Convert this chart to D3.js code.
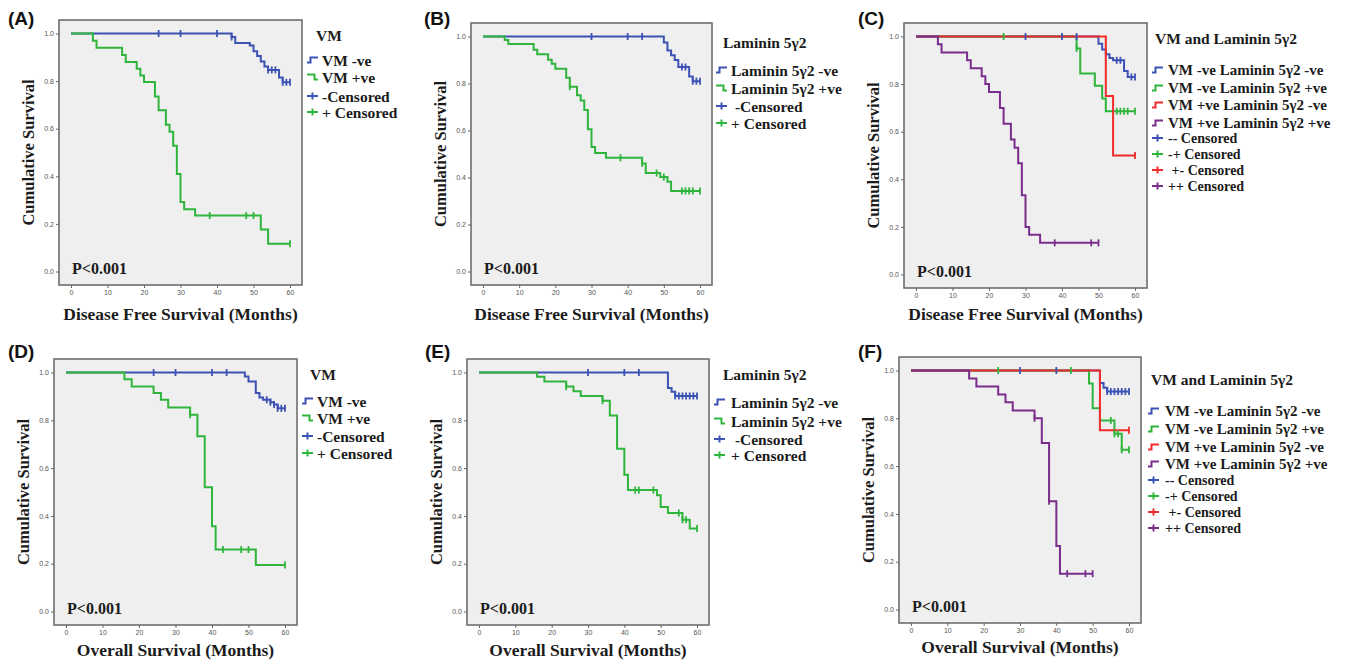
<!DOCTYPE html>
<html>
<head>
<meta charset="utf-8">
<script src="https://cdn.jsdelivr.net/npm/d3@7"></script>
<style>
  body { margin: 0; background: #fff; }
  svg text { font-family: "Liberation Serif", "Times New Roman", serif; }
</style>
</head>
<body>
<svg id="chart" width="1354" height="663"></svg>
<script>
// ---- axis ticks ----
const monthTicks = [0, 10, 20, 30, 40, 50, 60];
const survivalTicks = [0, 0.2, 0.4, 0.6, 0.8, 1.0];

// ---- Kaplan-Meier estimates: [month, survival after event], censored months ----
// (A) Disease free survival by VM
const dfsVmNegSteps = [[44,0.985],[45,0.96],[49,0.95],[50,0.925],[51,0.905],[52,0.882],[53,0.861],[54,0.847],[57,0.815],[58,0.795]];
const dfsVmNegCensored = [24,30,40,44,54,55,56,58,59,60];
const dfsVmPosSteps = [[6,0.97],[7,0.94],[14,0.91],[15,0.88],[18,0.852],[19,0.824],[20,0.796],[23,0.735],[24,0.678],[26,0.617],[27,0.587],[28,0.528],[29,0.41],[30,0.292],[31,0.262],[34,0.235],[52,0.176],[54,0.117]];
const dfsVmPosCensored = [38,48,50,60];

// (B) Disease free survival by Laminin 5γ2
const dfsLamNegSteps = [[50,0.975],[51,0.94],[52,0.92],[53,0.9],[54,0.87],[57,0.83],[58,0.81]];
const dfsLamNegCensored = [30,40,44,55,56,58,59,60];
const dfsLamPosSteps = [[6,0.985],[7,0.968],[14,0.944],[15,0.925],[18,0.901],[19,0.884],[20,0.863],[23,0.825],[24,0.786],[26,0.75],[27,0.728],[28,0.687],[29,0.605],[30,0.53],[31,0.504],[34,0.484],[44,0.46],[45,0.419],[49,0.402],[51,0.382],[52,0.343]];
const dfsLamPosCensored = [24,38,44,48,50,55,56,57,58,60];

// (C) Disease free survival by VM and Laminin 5γ2
const dfsNegNegSteps = [[50,0.97],[51,0.945],[52,0.925],[53,0.91],[54,0.9],[57,0.855],[58,0.83]];
const dfsNegNegCensored = [30,40,44,55,56,59,60];
const dfsNegPosSteps = [[44,0.95],[45,0.845],[49,0.793],[51,0.74],[52,0.686]];
const dfsNegPosCensored = [24,44,55,56,57,58,60];
const dfsPosNegSteps = [[52,0.75],[54,0.5]];
const dfsPosNegCensored = [60];
const dfsPosPosSteps = [[6,0.967],[7,0.933],[14,0.9],[15,0.867],[18,0.833],[19,0.8],[20,0.767],[23,0.7],[24,0.633],[26,0.567],[27,0.533],[28,0.467],[29,0.333],[30,0.2],[31,0.167],[34,0.133]];
const dfsPosPosCensored = [38,48,50];

// (D) Overall survival by VM
const osVmNegSteps = [[49,0.983],[50,0.962],[52,0.914],[53,0.895],[54,0.886],[56,0.876],[57,0.866],[58,0.85]];
const osVmNegCensored = [24,30,40,44,55,56,57,58,59,60];
const osVmPosSteps = [[16,0.972],[18,0.941],[24,0.914],[26,0.886],[28,0.854],[34,0.823],[36,0.733],[38,0.52],[40,0.357],[41,0.259],[52,0.195]];
const osVmPosCensored = [34,43,48,50,60];

// (E) Overall survival by Laminin 5γ2
const osLamNegSteps = [[52,0.935],[53,0.919],[54,0.902]];
const osLamNegCensored = [30,40,44,54,55,56,57,58,59,60];
const osLamPosSteps = [[16,0.982],[18,0.962],[24,0.941],[26,0.922],[28,0.902],[34,0.882],[36,0.82],[38,0.681],[40,0.572],[41,0.508],[49,0.486],[50,0.437],[52,0.412],[56,0.384],[58,0.347]];
const osLamPosCensored = [24,34,43,44,48,55,56,57,60];

// (F) Overall survival by VM and Laminin 5γ2
const osNegNegSteps = [[52,0.948],[53,0.928],[54,0.912]];
const osNegNegCensored = [30,40,54,55,56,57,58,59,60];
const osNegPosSteps = [[49,0.946],[50,0.842],[52,0.791],[56,0.735],[58,0.668]];
const osNegPosCensored = [24,44,55,56,57,58,60];
const osPosNegSteps = [[52,0.75]];
const osPosNegCensored = [60];
const osPosPosSteps = [[16,0.967],[18,0.933],[24,0.9],[26,0.867],[28,0.833],[34,0.8],[36,0.697],[38,0.453],[40,0.266],[41,0.15]];
const osPosPosCensored = [34,38,43,48,50];

// ---- legend labels ----
const vmLabels = ["VM -ve", "VM +ve"];
const vmCensLabels = ["-Censored", "+ Censored"];
const lamLabels = ["Laminin 5γ2 -ve", "Laminin 5γ2 +ve"];
const lamCensLabels = [" -Censored", "+ Censored"];
const comboLabels = ["VM -ve Laminin 5γ2 -ve", "VM -ve Laminin 5γ2 +ve", "VM +ve Laminin 5γ2 -ve", "VM +ve Laminin 5γ2 +ve"];
const comboCensLabels = ["-- Censored", "-+ Censored", " +- Censored", "++ Censored"];

// ---- styling ----
const BLUE = "#3c52b4", GREEN = "#2fb53c", RED = "#ef2b2b", PURPLE = "#7a2d8c";
const TEXT = "#1b1b1b";

const panels = [
  { tag: "(A)", tagPos: [8, 25], box: [59, 20, 243, 265], xTitle: "Disease Free Survival (Months)", xTitleY: 320,
    legendTitle: "VM", titlePos: [316, 35], symX: 307, txtX: 322, rows: [60, 77, 96, 112], censFont: 15.5,
    labels: vmLabels, censLabels: vmCensLabels, colors: [BLUE, GREEN],
    series: [[dfsVmNegSteps, dfsVmNegCensored], [dfsVmPosSteps, dfsVmPosCensored]] },
  { tag: "(B)", tagPos: [424, 25], box: [471, 23, 241, 262], xTitle: "Disease Free Survival (Months)", xTitleY: 320,
    legendTitle: "Laminin 5γ2", titlePos: [723, 42], symX: 716, txtX: 731, rows: [70, 88, 106, 123], censFont: 15.5,
    labels: lamLabels, censLabels: lamCensLabels, colors: [BLUE, GREEN],
    series: [[dfsLamNegSteps, dfsLamNegCensored], [dfsLamPosSteps, dfsLamPosCensored]] },
  { tag: "(C)", tagPos: [858, 25], box: [904, 23, 243, 265], xTitle: "Disease Free Survival (Months)", xTitleY: 320,
    legendTitle: "VM and Laminin 5γ2", titlePos: [1155, 38], symX: 1152, txtX: 1168, rows: [70, 88, 105, 123, 138, 154, 170, 186], censFont: 14,
    labels: comboLabels, censLabels: comboCensLabels, colors: [BLUE, GREEN, RED, PURPLE],
    series: [[dfsNegNegSteps, dfsNegNegCensored], [dfsNegPosSteps, dfsNegPosCensored], [dfsPosNegSteps, dfsPosNegCensored], [dfsPosPosSteps, dfsPosPosCensored]] },
  { tag: "(D)", tagPos: [8, 358], box: [54, 359, 243, 266], xTitle: "Overall Survival (Months)", xTitleY: 656,
    legendTitle: "VM", titlePos: [310, 374], symX: 302, txtX: 317, rows: [401, 418, 436, 453], censFont: 15.5,
    labels: vmLabels, censLabels: vmCensLabels, colors: [BLUE, GREEN],
    series: [[osVmNegSteps, osVmNegCensored], [osVmPosSteps, osVmPosCensored]] },
  { tag: "(E)", tagPos: [425, 358], box: [467, 359, 242, 266], xTitle: "Overall Survival (Months)", xTitleY: 656,
    legendTitle: "Laminin 5γ2", titlePos: [723, 374], symX: 714, txtX: 731, rows: [402, 421, 439, 455], censFont: 15.5,
    labels: lamLabels, censLabels: lamCensLabels, colors: [BLUE, GREEN],
    series: [[osLamNegSteps, osLamNegCensored], [osLamPosSteps, osLamPosCensored]] },
  { tag: "(F)", tagPos: [858, 358], box: [899, 357, 242, 266], xTitle: "Overall Survival (Months)", xTitleY: 653,
    legendTitle: "VM and Laminin 5γ2", titlePos: [1151, 379], symX: 1148, txtX: 1165, rows: [411, 429, 447, 464, 480, 496, 512, 528], censFont: 14,
    labels: comboLabels, censLabels: comboCensLabels, colors: [BLUE, GREEN, RED, PURPLE],
    series: [[osNegNegSteps, osNegNegCensored], [osNegPosSteps, osNegPosCensored], [osPosNegSteps, osPosNegCensored], [osPosPosSteps, osPosPosCensored]] }
];

const svg = d3.select("#chart");
const INSET_X = 12, INSET_Y = 13.5;

// survival value of a step function at month t
function survivalAt(steps, t) {
  let s = 1;
  for (const [m, v] of steps) { if (m <= t) s = v; }
  return s;
}

panels.forEach(p => {
  const [left, top, w, h] = p.box;
  const g = svg.append("g");

  const x = d3.scaleLinear().domain([0, 60]).range([left + INSET_X, left + w - INSET_X]);
  const y = d3.scaleLinear().domain([0, 1]).range([top + h - INSET_Y, top + INSET_Y]);

  // plot frame
  g.append("rect").attr("x", left).attr("y", top).attr("width", w).attr("height", h)
    .attr("fill", "#efefef").attr("stroke", "#666").attr("stroke-width", 1.5);

  // axes
  const xa = g.append("g").attr("transform", `translate(0,${top + h})`)
    .call(d3.axisBottom(x).tickValues(monthTicks).tickSize(3).tickPadding(2).tickFormat(d3.format("d")));
  const ya = g.append("g").attr("transform", `translate(${left},0)`)
    .call(d3.axisLeft(y).tickValues(survivalTicks).tickSize(3).tickPadding(2).tickFormat(d3.format(".1f")));
  [xa, ya].forEach(a => {
    a.select(".domain").remove();
    a.selectAll(".tick line").attr("stroke", "#666");
    a.selectAll(".tick text").attr("fill", "#555").style("font-family", "Liberation Sans, Arial, sans-serif").style("font-size", "7px");
  });

  // survival curves
  const line = d3.line().x(d => x(d[0])).y(d => y(d[1])).curve(d3.curveStepAfter);
  p.series.forEach(([steps, cens], i) => {
    const end = Math.max(steps.length ? steps[steps.length - 1][0] : 0, d3.max(cens));
    const pts = [[0, 1], ...steps, [end, survivalAt(steps, end)]];
    g.append("path").attr("d", line(pts)).attr("fill", "none")
      .attr("stroke", p.colors[i]).attr("stroke-width", 2);
  });
  // censor marks
  p.series.forEach(([steps, cens], i) => {
    g.selectAll(null).data(cens).enter().append("line")
      .attr("x1", d => x(d)).attr("x2", d => x(d))
      .attr("y1", d => y(survivalAt(steps, d)) - 3.5)
      .attr("y2", d => y(survivalAt(steps, d)) + 3.5)
      .attr("stroke", p.colors[i]).attr("stroke-width", 1.8);
  });

  // p-value
  g.append("text").attr("x", left + 13).attr("y", top + h - 17).attr("dominant-baseline", "central")
    .attr("fill", TEXT).style("font-weight", "bold").style("font-size", "16px").text("P<0.001");

  // axis titles
  g.append("text").attr("x", left + w / 2).attr("y", p.xTitleY).attr("text-anchor", "middle")
    .attr("fill", TEXT).style("font-weight", "bold").style("font-size", "17.5px").text(p.xTitle);
  g.append("text").attr("transform", `translate(${left - 31},${top + h / 2}) rotate(-90)`)
    .attr("text-anchor", "middle").attr("dominant-baseline", "central")
    .attr("fill", TEXT).style("font-weight", "bold").style("font-size", "16.5px").text("Cumulative Survival");

  // panel tag
  g.append("text").attr("x", p.tagPos[0]).attr("y", p.tagPos[1]).attr("fill", "#111")
    .style("font-family", "Liberation Sans, Arial, sans-serif").style("font-weight", "bold").style("font-size", "19px")
    .text(p.tag);

  // legend
  g.append("text").attr("x", p.titlePos[0]).attr("y", p.titlePos[1]).attr("dominant-baseline", "central")
    .attr("fill", TEXT).style("font-weight", "bold").style("font-size", "15.5px").text(p.legendTitle);
  const n = p.labels.length;
  p.labels.forEach((lab, i) => {
    const yy = p.rows[i];
    const sx = p.symX;
    const d = (i % 2 === 0 || n > 2)
      ? `M${sx},${yy + 2.5}h3.5v-5h7.5`
      : `M${sx},${yy - 2.5}h7.5v5h3.5`;
    g.append("path").attr("d", d).attr("fill", "none").attr("stroke", p.colors[i]).attr("stroke-width", 2);
    g.append("text").attr("x", p.txtX).attr("y", yy).attr("dominant-baseline", "central")
      .attr("fill", TEXT).style("font-weight", "bold").style("font-size", n > 2 ? "15px" : "15.5px").text(lab);
  });
  p.censLabels.forEach((lab, i) => {
    const yy = p.rows[n + i];
    const sx = p.symX;
    g.append("line").attr("x1", sx).attr("x2", sx + 11).attr("y1", yy).attr("y2", yy)
      .attr("stroke", p.colors[i]).attr("stroke-width", 2);
    g.append("line").attr("x1", sx + 5.5).attr("x2", sx + 5.5).attr("y1", yy - 3.5).attr("y2", yy + 3.5)
      .attr("stroke", p.colors[i]).attr("stroke-width", 2);
    g.append("text").attr("x", p.txtX).attr("y", yy).attr("dominant-baseline", "central")
      .attr("fill", TEXT).style("font-weight", "bold").style("font-size", p.censFont + "px")
      .style("white-space", "pre").text(lab);
  });
});
</script>
</body>
</html>
